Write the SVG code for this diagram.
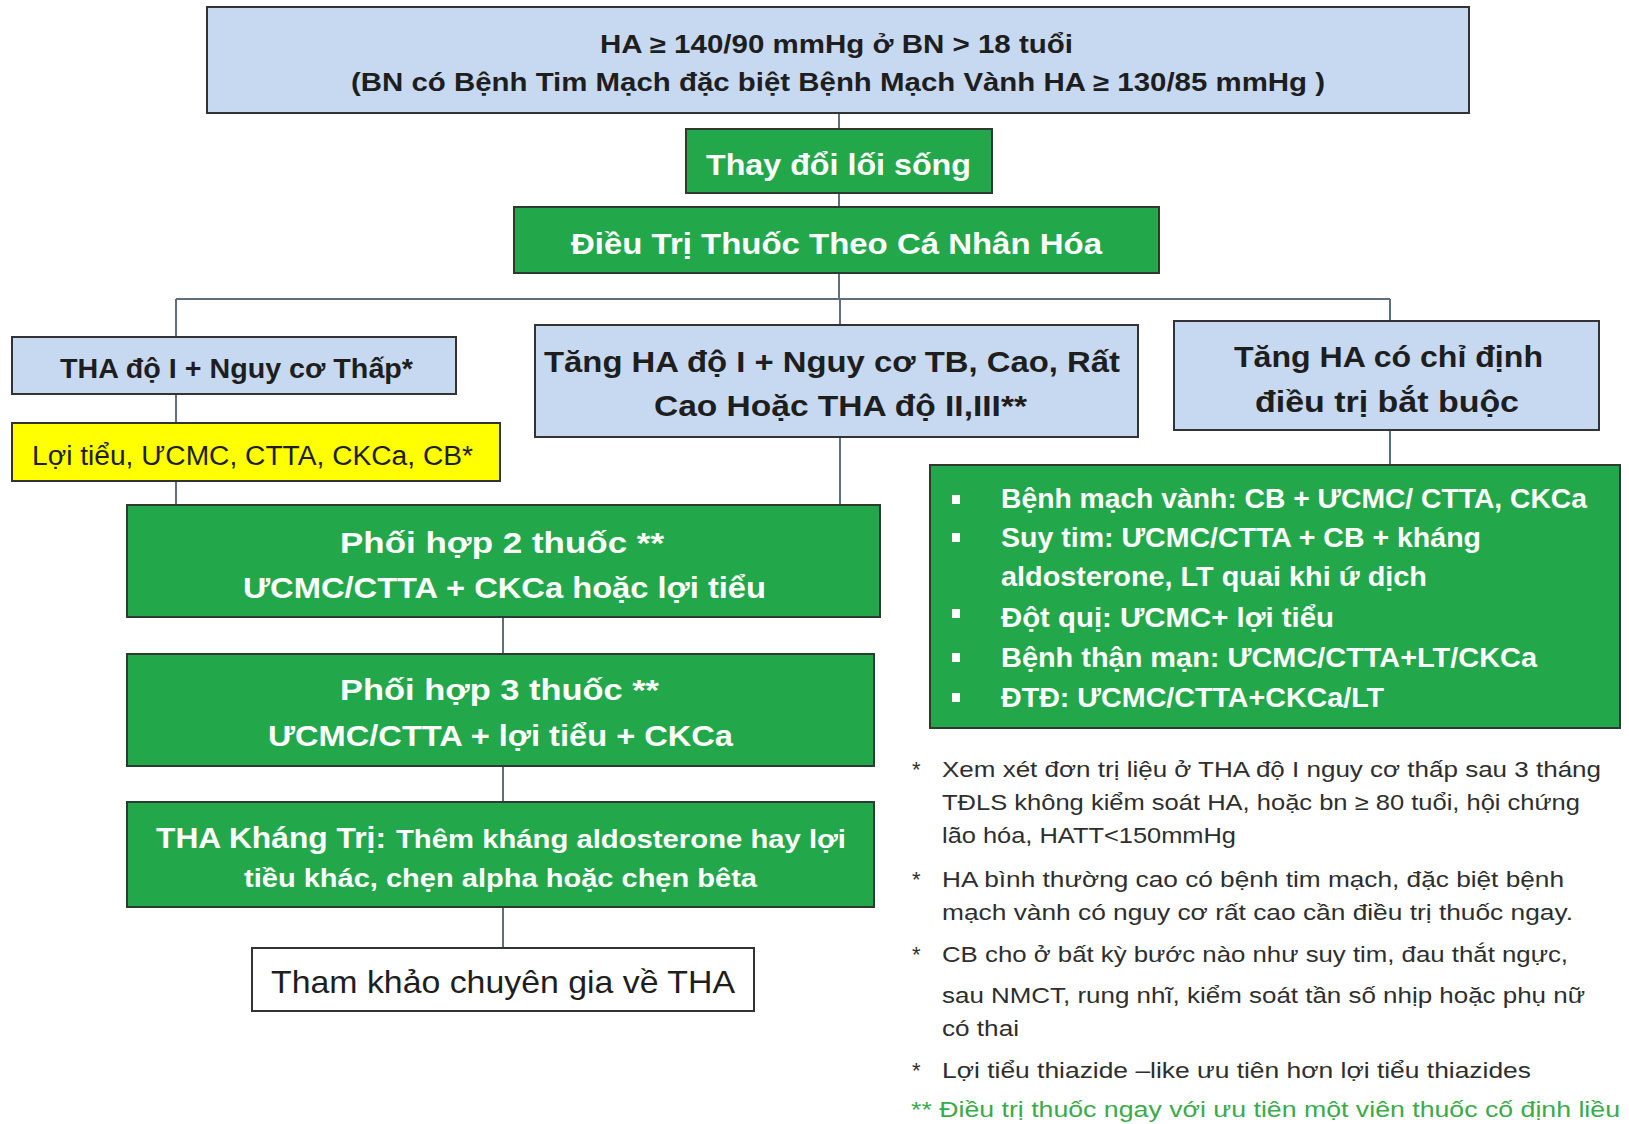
<svg xmlns="http://www.w3.org/2000/svg" width="1629" height="1124" viewBox="0 0 1629 1124">
<style>
.blue{fill:#c6d9f1;stroke:#333;stroke-width:2}
.green{fill:#22a84a;stroke:#2e3a30;stroke-width:2}
.yellow{fill:#ffff00;stroke:#333;stroke-width:2}
.white{fill:#fff;stroke:#333;stroke-width:2}
.conn{fill:none;stroke:#5f6f80;stroke-width:2}
text{font-family:"Liberation Sans",Arial,sans-serif}
.bd{font-weight:bold}
.dk{fill:#1e1e1e}
.wt{fill:#fff}
.note{fill:#2e2e2e;font-size:22px}
.gnote{fill:#3aaa4a;font-size:22px}
</style>
<g id="connectors">
<path class="conn" d="M839 113V299M176 299H1390M176 299V505M840 299V505M1390 299V465M503 617V948"/>
</g>
<g id="n-top">
<rect class="blue" x="207" y="7" width="1262" height="106"/>
<text class="bd dk" x="600" y="53" font-size="25" textLength="473" lengthAdjust="spacingAndGlyphs">HA ≥ 140/90 mmHg ở BN &gt; 18 tuổi</text>
<text class="bd dk" x="351" y="91" font-size="25" textLength="974" lengthAdjust="spacingAndGlyphs">(BN có Bệnh Tim Mạch đặc biệt Bệnh Mạch Vành HA ≥ 130/85 mmHg )</text>
</g>
<g id="n-lifestyle">
<rect class="green" x="686" y="129" width="306" height="64"/>
<text class="bd wt" x="706" y="175" font-size="30" textLength="265" lengthAdjust="spacingAndGlyphs">Thay đổi lối sống</text>
</g>
<g id="n-individual">
<rect class="green" x="514" y="207" width="645" height="66"/>
<text class="bd wt" x="571" y="254" font-size="30" textLength="531" lengthAdjust="spacingAndGlyphs">Điều Trị Thuốc Theo Cá Nhân Hóa</text>
</g>
<g id="n-low">
<rect class="blue" x="12" y="337" width="444" height="57"/>
<text class="bd dk" x="60" y="378" font-size="28" textLength="353" lengthAdjust="spacingAndGlyphs">THA độ I + Nguy cơ Thấp*</text>
</g>
<g id="n-mono">
<rect class="yellow" x="12" y="423" width="488" height="58"/>
<text class="dk" x="32" y="465" font-size="27" textLength="441" lengthAdjust="spacingAndGlyphs">Lợi tiểu, ƯCMC, CTTA, CKCa, CB*</text>
</g>
<g id="n-high">
<rect class="blue" x="535" y="325" width="603" height="112"/>
<text class="bd dk" x="544" y="372" font-size="30" textLength="576" lengthAdjust="spacingAndGlyphs">Tăng HA độ I + Nguy cơ TB, Cao, Rất</text>
<text class="bd dk" x="654" y="416" font-size="30" textLength="373" lengthAdjust="spacingAndGlyphs">Cao Hoặc THA độ II,III**</text>
</g>
<g id="n-compelling">
<rect class="blue" x="1174" y="321" width="425" height="109"/>
<text class="bd dk" x="1234" y="367" font-size="30" textLength="309" lengthAdjust="spacingAndGlyphs">Tăng HA có chỉ định</text>
<text class="bd dk" x="1255" y="412" font-size="30" textLength="264" lengthAdjust="spacingAndGlyphs">điều trị bắt buộc</text>
</g>
<g id="n-list">
<rect class="green" x="930" y="465" width="690" height="263"/>
<g fill="#fff">
<rect x="952" y="495" width="8" height="9"/>
<rect x="952" y="533" width="8" height="9"/>
<rect x="952" y="609" width="8" height="9"/>
<rect x="952" y="653" width="8" height="9"/>
<rect x="952" y="693" width="8" height="9"/>
</g>
<text class="bd wt" x="1001" y="508" font-size="27" textLength="586" lengthAdjust="spacingAndGlyphs">Bệnh mạch vành: CB + ƯCMC/ CTTA, CKCa</text>
<text class="bd wt" x="1001" y="547" font-size="27" textLength="480" lengthAdjust="spacingAndGlyphs">Suy tim: ƯCMC/CTTA + CB + kháng</text>
<text class="bd wt" x="1001" y="586" font-size="27" textLength="426" lengthAdjust="spacingAndGlyphs">aldosterone, LT quai khi ứ dịch</text>
<text class="bd wt" x="1001" y="627" font-size="27" textLength="333" lengthAdjust="spacingAndGlyphs">Đột quị: ƯCMC+ lợi tiểu</text>
<text class="bd wt" x="1001" y="667" font-size="27" textLength="536" lengthAdjust="spacingAndGlyphs">Bệnh thận mạn: ƯCMC/CTTA+LT/CKCa</text>
<text class="bd wt" x="1001" y="707" font-size="27" textLength="383" lengthAdjust="spacingAndGlyphs">ĐTĐ: ƯCMC/CTTA+CKCa/LT</text>
</g>
<g id="n-combo2">
<rect class="green" x="127" y="505" width="753" height="112"/>
<text class="bd wt" x="340" y="553" font-size="30" textLength="324" lengthAdjust="spacingAndGlyphs">Phối hợp 2 thuốc  **</text>
<text class="bd wt" x="243" y="598" font-size="30" textLength="523" lengthAdjust="spacingAndGlyphs">ƯCMC/CTTA + CKCa hoặc lợi tiểu</text>
</g>
<g id="n-combo3">
<rect class="green" x="127" y="654" width="747" height="112"/>
<text class="bd wt" x="340" y="700" font-size="30" textLength="319" lengthAdjust="spacingAndGlyphs">Phối hợp 3 thuốc **</text>
<text class="bd wt" x="268" y="746" font-size="30" textLength="465" lengthAdjust="spacingAndGlyphs">ƯCMC/CTTA + lợi tiểu + CKCa</text>
</g>
<g id="n-resistant">
<rect class="green" x="127" y="802" width="747" height="105"/>
<text class="bd wt" x="156" y="848" font-size="30" textLength="230" lengthAdjust="spacingAndGlyphs">THA Kháng Trị:</text>
<text class="bd wt" x="396" y="848" font-size="26" textLength="450" lengthAdjust="spacingAndGlyphs">Thêm kháng aldosterone hay lợi</text>
<text class="bd wt" x="244" y="887" font-size="26" textLength="513" lengthAdjust="spacingAndGlyphs">tiều khác, chẹn alpha hoặc chẹn bêta</text>
</g>
<g id="n-expert">
<rect class="white" x="252" y="948" width="502" height="63"/>
<text class="dk" x="271" y="993" font-size="32" textLength="464" lengthAdjust="spacingAndGlyphs">Tham khảo chuyên gia về THA</text>
</g>
<g id="notes">
<text class="note" x="912" y="777">*</text>
<text class="note" x="942" y="777" textLength="659" lengthAdjust="spacingAndGlyphs">Xem xét đơn trị liệu ở THA độ I nguy cơ thấp sau 3 tháng</text>
<text class="note" x="942" y="810" textLength="638" lengthAdjust="spacingAndGlyphs">TĐLS không kiểm soát HA, hoặc bn ≥ 80 tuổi, hội chứng</text>
<text class="note" x="942" y="843" textLength="294" lengthAdjust="spacingAndGlyphs">lão hóa, HATT&lt;150mmHg</text>
<text class="note" x="912" y="887">*</text>
<text class="note" x="942" y="887" textLength="622" lengthAdjust="spacingAndGlyphs">HA bình thường cao có bệnh tim mạch, đặc biệt bệnh</text>
<text class="note" x="942" y="920" textLength="631" lengthAdjust="spacingAndGlyphs">mạch vành có nguy cơ  rất cao cần điều trị thuốc ngay.</text>
<text class="note" x="912" y="962">*</text>
<text class="note" x="942" y="962" textLength="626" lengthAdjust="spacingAndGlyphs">CB cho ở bất kỳ bước nào như suy tim, đau thắt ngực,</text>
<text class="note" x="942" y="1003" textLength="643" lengthAdjust="spacingAndGlyphs">sau NMCT, rung nhĩ, kiểm soát tần số nhịp hoặc phụ nữ</text>
<text class="note" x="942" y="1036" textLength="77" lengthAdjust="spacingAndGlyphs">có thai</text>
<text class="note" x="912" y="1078">*</text>
<text class="note" x="942" y="1078" textLength="589" lengthAdjust="spacingAndGlyphs">Lợi tiểu thiazide –like ưu tiên hơn lợi tiểu thiazides</text>
<text class="gnote" x="911" y="1117" textLength="709" lengthAdjust="spacingAndGlyphs">** Điều trị thuốc ngay với ưu tiên một viên thuốc cố định liều</text>
</g>
</svg>
